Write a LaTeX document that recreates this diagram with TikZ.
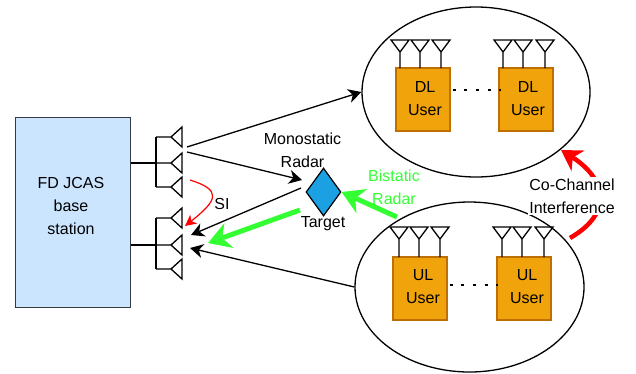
\documentclass[tikz,border=0pt]{standalone}
\usepackage{fontspec}
\setmainfont{Liberation Sans}
\usetikzlibrary{arrows.meta,shapes.geometric}
\definecolor{bsfill}{HTML}{CCE5FF}
\definecolor{bsline}{HTML}{36393D}
\definecolor{userfill}{HTML}{F0A30A}
\definecolor{userline}{HTML}{BD7000}
\definecolor{tgtfill}{HTML}{1BA1E2}
\definecolor{grn}{HTML}{33FF33}
\tikzset{
  every node/.style={font=\fontsize{16}{19}\selectfont},
  wire/.style={draw=black,line width=1.3pt},
  radio/.style={draw=black,line width=1.3pt,-{Stealth[length=13pt,width=14pt,inset=4pt]}},
  greenarrow/.style={draw=grn,line width=5pt,-{Stealth[length=22pt,width=26pt,inset=7pt]}},
  redarrow/.style={draw=red,line width=4.5pt,-{Stealth[length=20pt,width=24pt,inset=6pt]}},
  thinred/.style={draw=red,line width=1.2pt,-{Stealth[length=11pt,width=11pt,inset=3pt]}},
  userbox/.style={draw=userline,fill=userfill,line width=1.2pt,minimum width=54pt,minimum height=63pt,inner sep=0pt,align=center},
  cell/.style={draw=black,line width=1.3pt,ellipse,inner sep=0pt,fill=white},
  lbl/.style={inner sep=0pt,align=center},
  ant/.style={draw=black,line width=1.3pt},
  dots/.style={draw=black,line width=2.5pt,dash pattern=on 3pt off 8.7pt}
}
\newcommand{\leftant}[2]{\draw[ant] (156,#2) -- (#1,#2) (182,#2-10) -- (#1,#2) -- (182,#2+10) -- cycle;}
\newcommand{\upant}[3]{\draw[ant] (#1-9,#2) -- (#1+9,#2) -- (#1,#2+12) -- cycle (#1,#2+12) -- (#1,#3);}
\begin{document}
\begin{tikzpicture}[x=1pt,y=-1pt]
\useasboundingbox (0,0) rectangle (636,373);
% cells
\node[cell,minimum width=228pt,minimum height=170pt] (dlcell) at (476,92) {};
\node[cell,minimum width=229pt,minimum height=170pt] (ulcell) at (469.5,287) {};
% base station
\node[draw=bsline,fill=bsfill,line width=1pt,minimum width=115pt,minimum height=190pt,inner sep=0pt,align=center] (bs) at (72.5,212) {};
\node[lbl] (bstext) at (71,206) {FD JCAS\\[4pt]base\\[4pt]station};
% user boxes
\node[userbox] (dl1) at (423,99.5) {};
\node[userbox] (dl2) at (526,99.5) {};
\node[userbox] (ul1) at (420,288.5) {};
\node[userbox] (ul2) at (524,288.5) {};
\node[lbl] at (425,99) {DL\\[4pt]User};
\node[lbl] at (528,99) {DL\\[4pt]User};
\node[lbl] at (423,287) {UL\\[4pt]User};
\node[lbl] at (527,287) {UL\\[4pt]User};
\draw[dots] (dl1.east) ++(2,-9.5) -- ++(48,0);
\draw[dots] (ul1.east) ++(2,-3.5) -- ++(48,0);
% user antennas
\foreach \x in {400,420,441,503,523,545} {\upant{\x}{40}{68}}
\foreach \x in {399,419,440,502,522,544} {\upant{\x}{227}{257}}
% base station antenna trees
\coordinate (tx) at (156,163);
\coordinate (rx) at (156,245);
\draw[wire] (bs.east |- tx) -- (tx);
\draw[wire] (bs.east |- rx) -- (rx);
\draw[wire] (156,137) -- (156,187);
\draw[wire] (156,218) -- (156,269);
\foreach \y in {137,163,187,218,245,269} {\leftant{171}{\y}}
% target
\node[diamond,draw=black,fill=tgtfill,line width=1.2pt,minimum width=35pt,minimum height=48pt,inner sep=0pt,aspect=0.73] (target) at (323.5,192) {};
% radio links
\coordinate (txa) at (187,147);
\coordinate (txb) at (187,152);
\coordinate (tgtin) at (302,180);
\coordinate (tgtout) at (301,188);
\coordinate (rxa) at (191,235);
\coordinate (rxb) at (190,248);
\draw[radio] (txa) -- (dlcell.west);
\draw[radio] (txb) -- (tgtin);
\draw[radio] (tgtout) -- (rxa);
\draw[radio] (ulcell.west) -- (rxb);
% SI
\coordinate (sia) at (190,180);
\coordinate (sib) at (185,226);
\draw[thinred] (sia) .. controls (222,190) and (218,200) .. (sib);
% green
\coordinate (g1) at (300,210);
\coordinate (g2) at (208,243);
\coordinate (g3) at (397,217);
\draw[greenarrow] (g1) -- (g2);
\draw[greenarrow] (g3) -- (target.east);
% red co-channel
\coordinate (ra) at (570,238);
\coordinate (rb) at (561,150);
\draw[redarrow] (ra) .. controls (615,212) and (605,178) .. (rb);
% labels
\node[lbl] at (302.5,150) {Monostatic\\[4pt]Radar};
\node[lbl] at (323,224) {Target};
\node[lbl] at (222,204) {SI};
\node[lbl,text=grn] at (394,187.5) {Bistatic\\[4pt]Radar};
\node[lbl,fill=white,inner xsep=1pt,inner ysep=2pt] at (572,196) {Co-Channel\\[4pt]Interference};
\end{tikzpicture}
\end{document}
